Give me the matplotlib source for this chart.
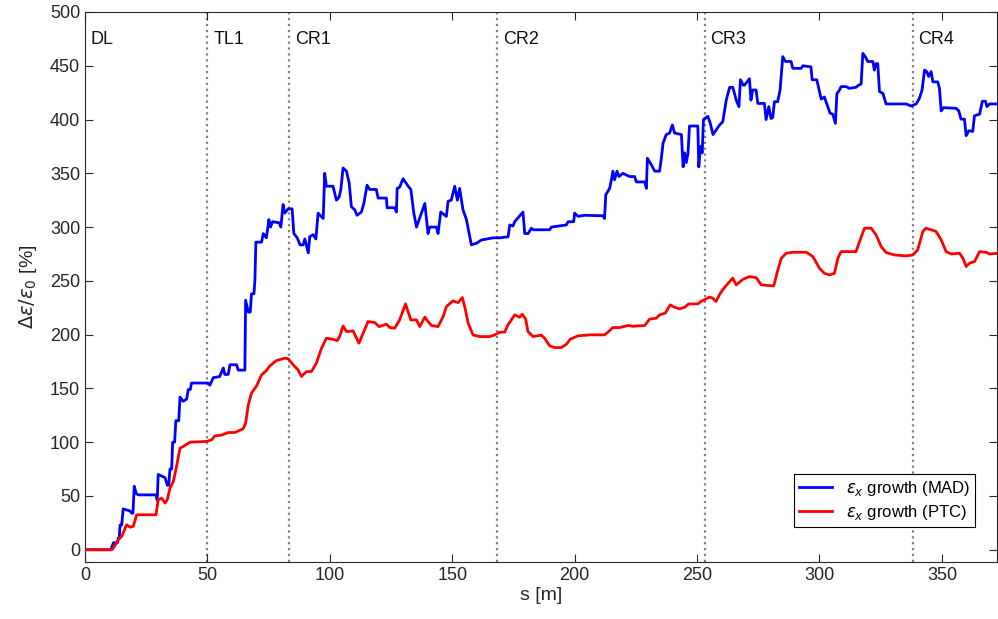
import matplotlib.pyplot as plt
import numpy as np

plt.rcParams['font.family'] = ['Liberation Sans', 'DejaVu Sans']
plt.rcParams['mathtext.fontset'] = 'dejavusans'

# emittance growth along s, MAD tracking (stepwise)
s_mad = [0, 10.5, 10.9, 11.6, 13.3, 13.6, 14.0, 14.3, 15.0, 15.6, 18.4, 19.1, 19.6, 20.1, 21.0, 21.8,
         29.0, 29.5, 29.9, 32.7, 33.6, 34.2, 34.7, 35.4, 35.8, 36.6, 37.1, 38.3, 38.8, 40.1, 41.5,
         42.2, 43.0, 43.5, 50.3, 51.0, 52.4, 55.0, 56.5, 57.1, 58.5, 59.2, 61.9, 62.6, 65.3, 65.6,
         66.7, 67.5, 68.0, 69.0, 69.4, 69.8, 72.1, 72.8, 74.1, 75.1, 75.8, 76.6, 79.3, 80.0, 80.9,
         81.6, 83.0, 84.6, 85.3, 86.7, 87.8, 89.1, 89.8, 91.2, 91.8, 93.2, 94.3, 95.2, 97.3, 97.9,
         98.6, 101.3, 102.7, 103.8, 104.5, 105.4, 106.8, 107.9, 108.8, 110.2, 111.1, 112.9, 113.9,
         115.2, 116.3, 119.0, 119.7, 123.1, 123.4, 126.5, 127.2, 127.5, 128.5, 129.9, 132.0, 133.1,
         134.3, 135.4, 137.4, 138.8, 140.1, 140.8, 143.5, 144.2, 145.3, 147.6, 148.3, 149.6, 151.0,
         152.1, 153.0, 154.4, 155.8, 157.8, 159.9, 161.9, 166.7, 169.4, 172.8, 173.5, 174.8, 175.5,
         178.9, 179.6, 181.0, 182.3, 183.0, 189.8, 190.5, 196.6, 197.3, 199.6, 200.0, 201.4, 204.1,
         211.6, 212.2, 212.7, 214.3, 215.0, 215.6, 216.3, 217.3, 218.1, 219.7, 222.4, 224.5, 225.2,
         228.6, 229.3, 229.7, 231.3, 232.7, 234.7, 235.4, 236.1, 237.4, 238.8, 239.9, 240.8, 243.6,
         244.3, 244.9, 245.6, 246.3, 246.9, 250.3, 250.7, 251.4, 252.1, 252.6, 254.4, 255.4, 256.5,
         259.2, 260.5, 261.9, 263.3, 264.6, 266.0, 267.1, 267.7, 268.8, 269.4, 271.4, 272.0, 272.7,
         274.1, 274.8, 277.5, 278.2, 279.3, 280.2, 280.9, 281.6, 282.9, 283.9, 285.0, 286.1, 288.4,
         289.1, 292.5, 293.2, 296.5, 297.0, 298.9, 299.7, 300.7, 302.0, 303.4, 304.3, 305.4, 306.5,
         307.1, 308.2, 308.8, 310.9, 312.2, 314.9, 316.0, 317.0, 317.7, 318.7, 319.7, 321.8, 322.4,
         323.1, 323.8, 324.5, 325.9, 326.5, 327.2, 335.4, 337.4, 339.5, 340.8, 341.9, 342.9, 343.8,
         344.6, 345.6, 346.3, 348.3, 349.0, 349.7, 350.6, 355.8, 356.9, 357.8, 359.2, 359.9, 361.0,
         362.6, 363.3, 365.4, 366.5, 367.8, 368.4, 369.5, 372.8]
g_mad = [0, 0, 2, 6.5, 6.5, 11, 11, 23, 23, 38, 36, 34, 34, 59, 52, 51,
         51, 46, 70, 67, 60, 60, 75, 75, 100, 100, 120, 120, 142, 138, 140,
         149, 149, 155, 155, 153, 160, 161, 169, 163, 163, 172, 172, 167, 167, 232,
         221, 221, 238, 238, 251, 286, 286, 294, 290, 307, 300, 305, 304, 300, 321,
         313, 317, 317, 294, 290, 283.5, 283.5, 289, 276, 291, 293, 289, 313, 308, 350,
         338, 338, 325, 328, 335, 355, 352, 341, 319, 316, 311, 314, 322,
         339, 335, 335, 327, 327, 318, 318, 314, 336, 337, 345, 338, 335,
         313, 300, 313, 322, 294, 300, 300, 294, 314, 310, 324, 325, 338,
         325, 336, 316, 307, 283.5, 285, 288, 290, 290, 291, 302, 301, 305,
         314, 294, 294, 299, 297.5, 297.5, 300, 302, 305, 305, 313, 310, 311,
         310.5, 308, 330, 336, 344, 352, 344, 352, 347, 350, 347, 347, 342,
         342, 336, 364, 358, 352, 352, 364, 378, 386, 387.5, 395, 387.5, 386,
         356, 369, 360, 369, 394, 394, 356, 375, 369, 400, 403, 396.5, 386,
         395, 398, 418, 430, 430, 418, 412, 437, 432, 432, 438, 418, 427.5,
         427.5, 415, 415, 400, 412, 401, 402, 416.6, 416.6, 427.5, 458.5, 454, 454,
         447.6, 447.6, 450, 449, 437, 437, 429, 419, 421, 412, 406, 405, 396.5,
         424, 427.5, 430.6, 430.6, 429, 430, 432, 433, 461.6, 458.5, 454, 454, 446,
         452, 452, 426, 424.4, 419.7, 414.5, 414.5, 412.6, 414.5, 419.7, 427.5, 446, 444.6,
         440, 444.6, 435, 435, 429, 408, 411, 410.5, 408, 400.4, 400.4, 385, 389.6,
         389, 403.5, 405, 417, 417, 412, 414.5, 414.5]

# emittance growth along s, PTC tracking
s_ptc = [0, 11.0, 11.6, 13.6, 15.0, 17.0, 18.4, 19.7, 21.1, 29.0, 29.9, 31.3, 32.7, 33.6, 34.7,
         36.1, 37.4, 38.8, 40.1, 42.9, 49.7, 51.7, 53.1, 55.8, 58.5, 61.2, 64.6, 65.6, 66.7, 68.0,
         70.1, 72.1, 74.1, 75.5, 78.2, 80.3, 81.6, 83.0, 85.0, 87.0, 88.4, 90.5, 92.5, 94.5, 96.6,
         98.6, 101.3, 103.0, 104.0, 105.4, 106.8, 109.5, 111.9, 113.6, 115.6, 118.4, 120.1, 123.1,
         124.5, 126.5, 128.5, 130.9, 133.1, 135.4, 136.7, 138.8, 140.1, 141.5, 144.2, 146.3, 147.6,
         150.3, 152.4, 154.1, 155.1, 156.5, 158.5, 161.2, 165.3, 167.3, 169.4, 171.4, 172.8, 175.5,
         177.5, 178.6, 180.0, 180.9, 183.0, 186.4, 187.7, 189.8, 191.8, 194.6, 196.6, 198.2, 201.4,
         206.1, 212.2, 213.6, 215.6, 218.4, 221.8, 223.8, 228.6, 230.6, 233.3, 234.7, 237.0, 239.0,
         240.8, 242.9, 244.9, 246.6, 250.3, 251.6, 255.0, 256.4, 257.7, 259.1, 260.5, 263.3, 264.6,
         266.0, 268.8, 271.5, 274.1, 276.2, 278.9, 281.3, 283.0, 284.4, 286.4, 289.1, 294.6, 297.3,
         300.0, 302.0, 304.1, 306.1, 307.5, 308.8, 314.9, 316.6, 318.4, 321.1, 323.1, 325.2, 327.2,
         330.6, 335.4, 338.1, 340.1, 342.2, 343.5, 345.6, 347.6, 349.7, 351.7, 353.8, 357.2, 358.6,
         359.9, 361.3, 363.3, 365.4, 368.1, 369.5, 372.8]
g_ptc = [0, 0, 1.6, 9.3, 12.4, 23.2, 21, 21.7, 32.5, 32.5, 46.5, 48, 43.4, 46.5, 57.3,
         63.5, 77.5, 94.5, 96, 100, 100.7, 102.2, 105.9, 106.6, 109, 109, 112.5, 117.7, 134.8, 145.6,
         152.4, 162.6, 166.6, 171, 175.9, 177.2, 178.1, 177.5, 172, 167.3, 161.1, 165.7, 165.7, 173.5, 187.4,
         196.7, 195.7, 194.5, 198.2, 208.1, 202.8, 203.5, 192, 201.3, 212.2, 211.2, 207.5, 209.7,
         206.6, 206, 213.7, 228.6, 213.7, 213.7, 207.5, 216.2, 212.2, 208.5, 207.5, 216.8, 226.1,
         231.4, 229.8, 234.5, 226.1, 210.6, 199.7, 198.2, 198.2, 199.7, 202.3, 202.3, 209.2, 218.4,
         216.2, 219, 214.4, 202.9, 198.3, 199.5, 196.7, 189.6, 188, 188, 191.1, 195.8, 198.9,
         199.8, 199.8, 202.3, 206.6, 206.6, 208.5, 207.8, 208.5, 214.4, 215.3, 218.4, 220, 227.7,
         225.5, 223.9, 225.5, 228.6, 228.6, 230.8, 234.9, 234, 230.8, 237, 241.9, 249.4, 252.5,
         246.3, 251.6, 254, 253, 246.3, 245.8, 245.3, 260.2, 271, 275.7, 276.6, 276.6, 272.6,
         261.7, 257, 255.5, 257, 271, 277.2, 277.2, 288.1, 299, 299, 292.7, 281.9, 276.3,
         274.1, 273.2, 274.1, 278.8, 295.9, 299, 297.5, 296, 288.1, 277.2, 275, 275.7, 271,
         263.3, 266.4, 267.9, 277.2, 276.5, 275, 275.7]

# lattice sections
sec_start = [0, 50, 83.3, 168.2, 253.1, 338]
sec_names = ['DL', 'TL1', 'CR1', 'CR2', 'CR3', 'CR4']

fig = plt.figure(figsize=(9.98, 6.19), dpi=100)
ax = fig.add_axes([85 / 998, 57 / 619, 912 / 998, 550 / 619])

for x0, name in zip(sec_start, sec_names):
    if x0 > 0:
        ax.axvline(x0, color='#808080', linestyle=':', linewidth=1.6, zorder=1)
    ax.text(x0 + 2.4, 474, name, fontsize=13, ha='left', va='center', color='#111111')

ax.plot(s_mad, g_mad, color='#0000ff', linewidth=2.0, solid_joinstyle='round',
        label=r'$\epsilon_x$ growth (MAD)', zorder=3)
ax.plot(s_ptc, g_ptc, color='#ff0000', linewidth=2.0, solid_joinstyle='round',
        label=r'$\epsilon_x$ growth (PTC)', zorder=3)

ax.set_xlim(0, 372.5)
ax.set_ylim(-11.4, 500)
ax.set_xticks(np.arange(0, 351, 50))
ax.set_yticks(np.arange(0, 501, 50))
ax.tick_params(direction='in', length=6, top=True, right=True, labelsize=13,
               colors='#262626', width=0.8)
for sp in ax.spines.values():
    sp.set_color('#262626')
    sp.set_linewidth(0.8)

ax.set_xlabel('s [m]', fontsize=14, color='#262626', labelpad=2)
ax.set_ylabel(r'$\Delta\epsilon/\epsilon_0$ [%]', fontsize=14, color='#262626', labelpad=8)

leg = ax.legend(loc='lower right', bbox_to_anchor=(0.976, 0.064), fontsize=12,
                fancybox=False, edgecolor='black', framealpha=1, borderaxespad=0,
                handlelength=2.0, borderpad=0.3, labelspacing=0.3)
leg.get_frame().set_linewidth(0.8)

plt.savefig('out.png', dpi=100)
